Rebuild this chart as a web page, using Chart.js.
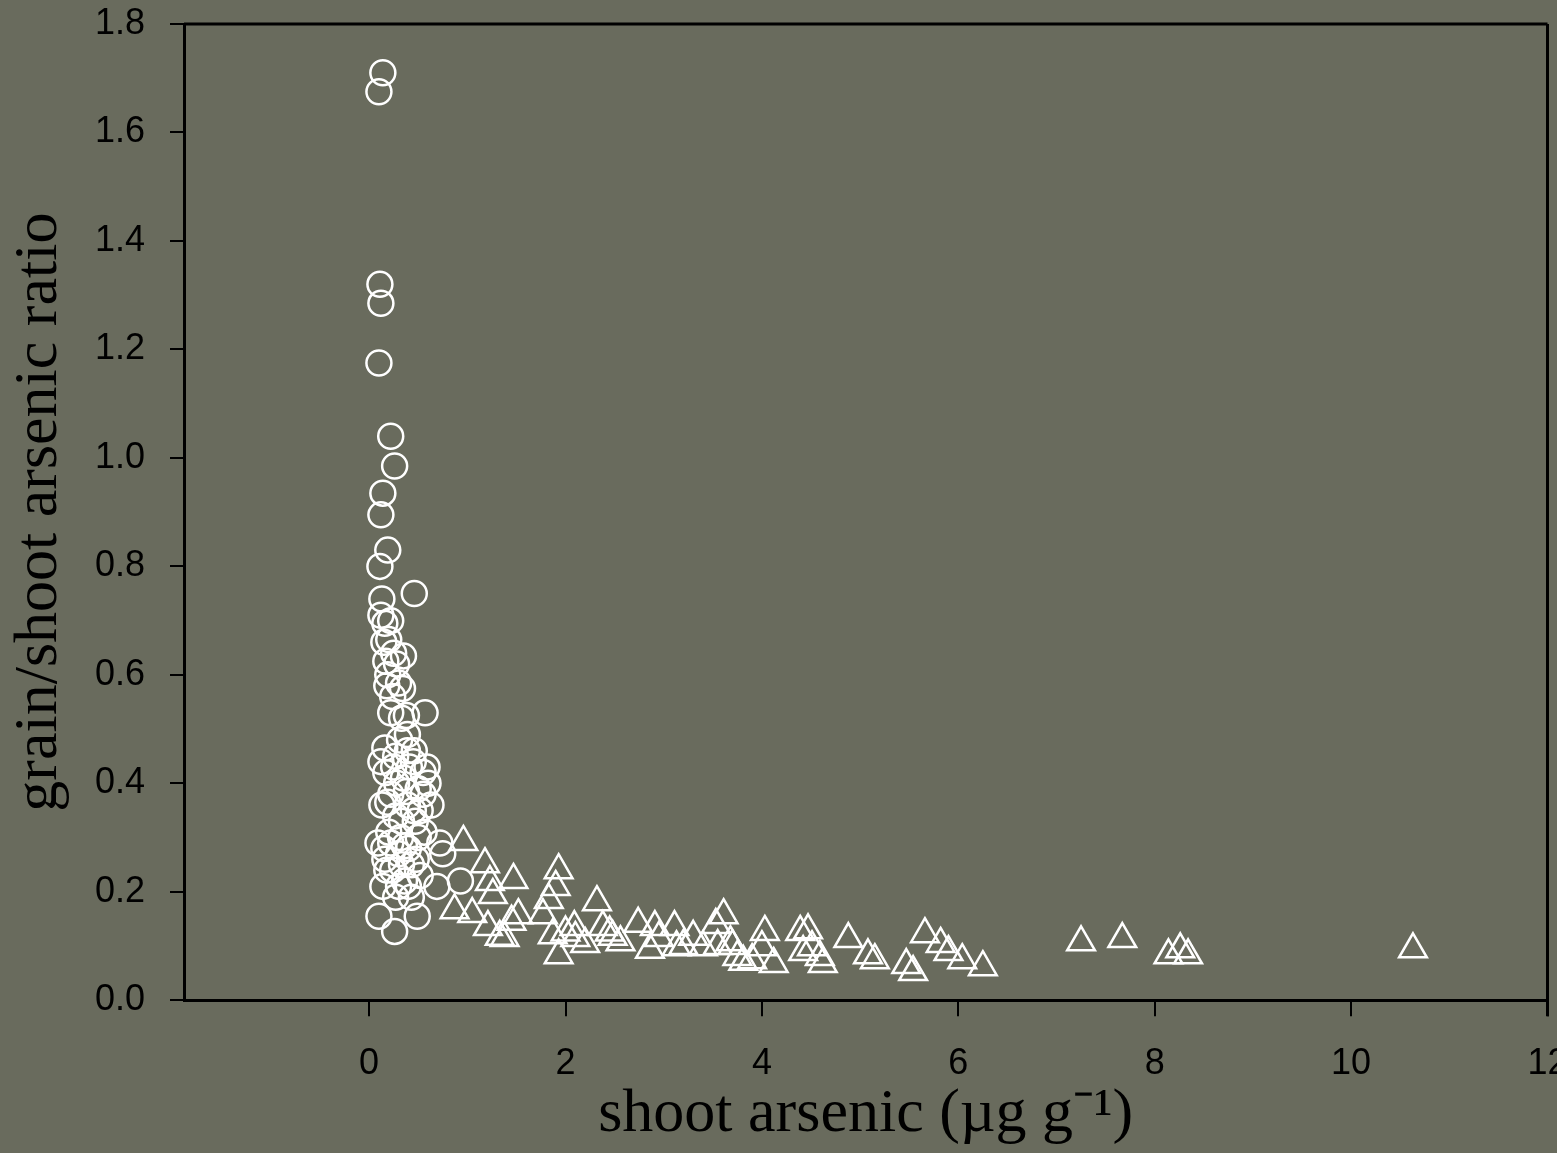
<!doctype html>
<html lang="en">
<head>
<meta charset="utf-8">
<title>Grain/shoot arsenic ratio vs shoot arsenic</title>
<style>
  * { margin: 0; padding: 0; }
  body { background: #696b5d; overflow: hidden; }
</style>
</head>
<body>
<canvas id="myChart" width="1567" height="1153"></canvas>
<script src="https://cdn.jsdelivr.net/npm/chart.js/dist/chart.umd.min.js"></script>
<script>
// circles: low shoot arsenic
const circleX = [0.14, 0.10, 0.11, 0.12, 0.10, 0.22, 0.26, 0.14, 0.12, 0.19,
                 0.11, 0.46, 0.13, 0.12, 0.16, 0.20, 0.15, 0.25, 0.35, 0.17,
                 0.19, 0.30, 0.34, 0.18, 0.57, 0.22, 0.38, 0.33, 0.39, 0.16,
                 0.39, 0.12, 0.46, 0.59, 0.25, 0.41, 0.17, 0.55, 0.28, 0.50,
                 0.38, 0.55, 0.19, 0.63, 0.39, 0.47, 0.33, 0.09, 0.32, 0.50,
                 0.72, 0.75, 0.16, 0.43, 0.24, 0.36, 0.30, 0.69, 0.93, 0.14,
                 0.40, 0.10, 0.49, 0.26, 0.15, 0.20, 0.52, 0.27,
                 0.22, 0.28, 0.24, 0.31, 0.27, 0.45, 0.35, 0.22, 0.45, 0.27,
                 0.56, 0.40, 0.22, 0.33, 0.48, 0.18, 0.43, 0.30, 0.60, 0.13,
                 0.36, 0.52];
const circleY = [1.71, 1.675, 1.32, 1.285, 1.175, 1.04, 0.985, 0.935, 0.895, 0.83,
                 0.80, 0.75, 0.74, 0.71, 0.695, 0.665, 0.66, 0.64, 0.635, 0.625,
                 0.60, 0.585, 0.575, 0.58, 0.53, 0.53, 0.525, 0.52, 0.49, 0.465,
                 0.46, 0.44, 0.46, 0.43, 0.43, 0.43, 0.42, 0.42, 0.40, 0.39,
                 0.385, 0.38, 0.365, 0.36, 0.36, 0.33, 0.33, 0.29, 0.30, 0.30,
                 0.29, 0.27, 0.26, 0.25, 0.24, 0.22, 0.27, 0.21, 0.22, 0.21,
                 0.21, 0.155, 0.155, 0.127, 0.28, 0.31, 0.23, 0.19,
                 0.70, 0.62, 0.56, 0.48, 0.45, 0.44, 0.41, 0.38, 0.35, 0.34,
                 0.31, 0.28, 0.29, 0.25, 0.26, 0.24, 0.19, 0.21, 0.40, 0.36,
                 0.285, 0.35];

// triangles: higher shoot arsenic
const triX = [0.96, 1.18, 1.23, 1.47, 1.26, 0.87, 1.05, 1.21, 1.33, 1.52,
              1.93, 1.90, 1.83, 1.77, 1.87, 1.93, 2.09, 2.20, 2.32, 2.38,
              2.48, 2.56, 2.74, 2.91, 2.86, 3.11, 3.13, 3.30, 3.40, 3.61,
              3.53, 3.68, 3.75, 3.81, 3.90, 4.03, 4.00, 4.12, 4.39, 4.47,
              4.51, 4.42, 4.59, 4.62, 4.88, 5.08, 5.15, 5.47, 5.54, 5.66,
              5.82, 5.90, 6.04, 6.25, 7.25, 7.67, 8.14, 8.26, 8.34, 10.63,
              2.95, 3.20, 2.45, 2.00, 2.10, 1.38, 1.45, 3.55, 3.70];
const triY = [0.292, 0.251, 0.218, 0.222, 0.194, 0.166, 0.159, 0.135, 0.117, 0.157,
              0.240, 0.209, 0.185, 0.157, 0.120, 0.083, 0.135, 0.104, 0.181, 0.135,
              0.117, 0.107, 0.141, 0.135, 0.093, 0.135, 0.098, 0.117, 0.098, 0.157,
              0.139, 0.107, 0.080, 0.071, 0.074, 0.126, 0.098, 0.067, 0.126, 0.129,
              0.098, 0.089, 0.080, 0.067, 0.113, 0.083, 0.074, 0.065, 0.052, 0.122,
              0.104, 0.089, 0.074, 0.061, 0.107, 0.113, 0.083, 0.094, 0.083, 0.094,
              0.115, 0.100, 0.125, 0.125, 0.115, 0.115, 0.145, 0.100, 0.100];

const xTicks = [0, 2, 4, 6, 8, 10, 12];
const yTicks = [0, 0.2, 0.4, 0.6, 0.8, 1.0, 1.2, 1.4, 1.6, 1.8];

const bgColor = '#696b5d';

// paint the whole canvas background
const background = {
  id: 'background',
  beforeDraw(chart) {
    const { ctx, width, height } = chart;
    ctx.save();
    ctx.fillStyle = bgColor;
    ctx.fillRect(0, 0, width, height);
    ctx.restore();
  }
};

// top and right frame lines
const frame = {
  id: 'frame',
  afterDraw(chart) {
    const { ctx, chartArea: { top, bottom, left, right } } = chart;
    ctx.save();
    ctx.strokeStyle = '#000';
    ctx.lineWidth = 3;
    ctx.beginPath();
    ctx.moveTo(left, top);
    ctx.lineTo(right, top);
    ctx.moveTo(right, top);
    ctx.lineTo(right, bottom + 16);
    ctx.stroke();
    ctx.restore();
  }
};

const data = {
  datasets: [{
    label: 'circles',
    data: circleX.map((x, i) => ({ x: x, y: circleY[i] })),
    pointStyle: 'circle',
    pointRadius: 12.5,
    borderColor: '#fff',
    borderWidth: 2.5,
    backgroundColor: 'rgba(0,0,0,0)'
  }, {
    label: 'triangles',
    data: triX.map((x, i) => ({ x: x, y: triY[i] })),
    pointStyle: 'triangle',
    pointRadius: 16,
    borderColor: '#fff',
    borderWidth: 2.5,
    backgroundColor: 'rgba(0,0,0,0)'
  }]
};

const tickFont = { family: 'Liberation Sans', size: 36 };
const titleFont = { family: 'Liberation Serif', size: 62 };

const config = {
  type: 'scatter',
  data,
  options: {
    responsive: false,
    animation: false,
    layout: { padding: { left: 0, top: 24, right: 0, bottom: 0 } },
    plugins: {
      legend: { display: false },
      tooltip: { enabled: false }
    },
    scales: {
      x: {
        type: 'linear',
        min: -1.885,
        max: 12,
        afterBuildTicks: s => { s.ticks = xTicks.map(v => ({ value: v })); },
        afterFit: s => { s.height = 152; s.paddingLeft = 0; s.paddingRight = 0; },
        grid: { drawOnChartArea: false, drawTicks: true, tickLength: 16, color: '#000', lineWidth: 2 },
        border: { color: '#000', width: 3 },
        ticks: { color: '#000', font: tickFont, padding: 26, maxRotation: 0 },
        title: {
          display: true,
          text: 'shoot arsenic (\u00b5g g\u207b\u00b9)',
          color: '#000',
          font: titleFont,
          padding: { top: 0, bottom: 0 }
        }
      },
      y: {
        type: 'linear',
        min: 0,
        max: 1.8,
        afterBuildTicks: s => { s.ticks = yTicks.map(v => ({ value: v })); },
        afterFit: s => { s.width = 184; s.paddingTop = 0; s.paddingBottom = 0; },
        grid: { drawOnChartArea: false, drawTicks: true, tickLength: 14, color: '#000', lineWidth: 2 },
        border: { color: '#000', width: 3 },
        ticks: { color: '#000', font: tickFont, padding: 25, callback: v => v.toFixed(1) },
        title: {
          display: true,
          text: 'grain/shoot arsenic ratio',
          color: '#000',
          font: titleFont,
          padding: { top: 3, bottom: 0 }
        }
      }
    }
  },
  plugins: [background, frame]
};

const myChart = new Chart(document.getElementById('myChart'), config);

// the canvas runs a bit past the window so the "12" label is cut like the original;
// widen or shrink it until the plot frame ends at x = 1547
const wantRight = 1547;
for (let i = 0; i < 4; i++) {
  const diff = myChart.chartArea.right - wantRight;
  if (Math.abs(diff) < 0.5) break;
  myChart.resize(Math.round(myChart.width - diff), 1153);
}
</script>
</body>
</html>
